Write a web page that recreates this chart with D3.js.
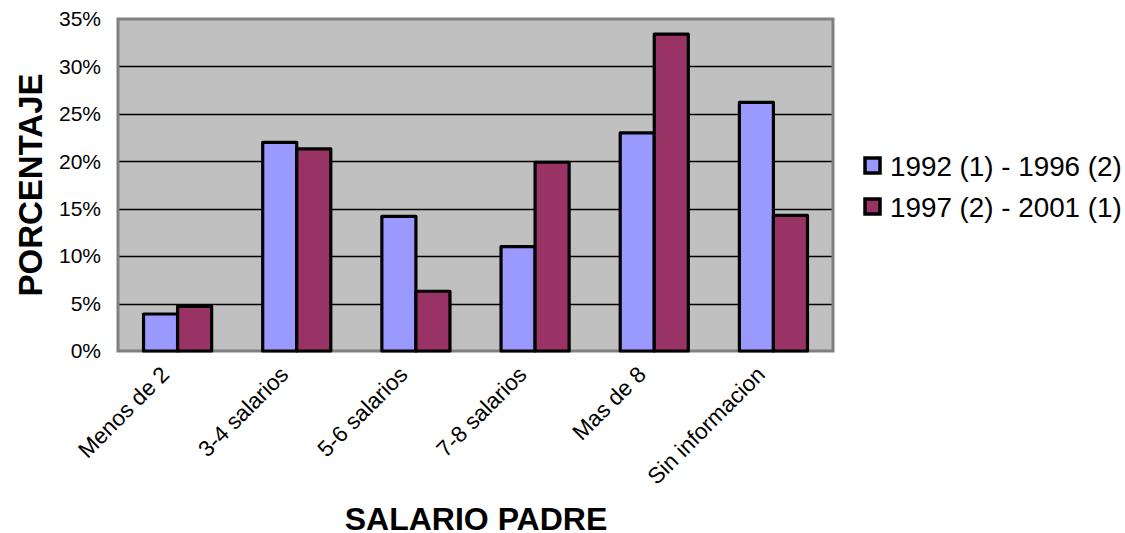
<!DOCTYPE html>
<html><head><meta charset="utf-8">
<script src="https://cdn.jsdelivr.net/npm/d3@7"></script>
<style>body{margin:0;background:#fff}svg{display:block;font-family:"Liberation Sans",Arial,sans-serif}</style>
</head><body><svg id="c" width="1125" height="533"></svg>
<script>
const categories = ["Menos de 2","3-4 salarios","5-6 salarios","7-8 salarios","Mas de 8","Sin informacion"];
const series1 = [3.9, 22.0, 14.2, 11.0, 23.0, 26.2];
const series2 = [4.7, 21.3, 6.3, 19.9, 33.4, 14.3];
const seriesNames = ["1992 (1) - 1996 (2)", "1997 (2) - 2001 (1)"];
const yTicks = [0,5,10,15,20,25,30,35];
const colors = ["#9999FF", "#993366"];

const svg = d3.select("#c");
const L = 118, R = 833, T = 19, B = 351;
const x0 = d3.scaleBand().domain(categories).range([L, R]).paddingInner(0).paddingOuter(0);
const inner = x0.bandwidth() / 3.5;
const y = d3.scaleLinear().domain([0,35]).range([B, T]);

svg.append("rect").attr("x", L).attr("y", T).attr("width", R-L).attr("height", B-T)
  .attr("fill", "#C0C0C0");
svg.append("g").selectAll("line").data(yTicks.filter(d=>d>0 && d<35)).join("line")
  .attr("x1", L).attr("x2", R).attr("y1", d=>Math.round(y(d))+0.5).attr("y2", d=>Math.round(y(d))+0.5)
  .attr("stroke", "#000").attr("stroke-width", 1.3);
svg.append("rect").attr("x", L).attr("y", T).attr("width", R-L).attr("height", B-T)
  .attr("fill", "none").attr("stroke", "#808080").attr("stroke-width", 3);

const data = categories.map((c,i)=>({c, v:[series1[i], series2[i]]}));
const g = svg.append("g");
data.forEach(d => {
  const cx = x0(d.c) + x0.bandwidth()/2;
  d.v.forEach((v,j) => {
    g.append("rect")
      .attr("x", cx - inner + j*inner).attr("y", y(v))
      .attr("width", inner).attr("height", y(0) - y(v))
      .attr("fill", colors[j]).attr("stroke", "#000").attr("stroke-width", 3.2)
      .attr("stroke-linejoin", "round");
  });
});

// y axis labels
const yAxis = d3.axisLeft(y).tickValues(yTicks).tickFormat(d=>d+"%").tickSize(0).tickPadding(17);
const ya = svg.append("g").attr("transform", `translate(${L},0)`).call(yAxis);
ya.select(".domain").remove();
ya.selectAll("text").attr("font-size", 21).attr("fill", "#000")
  .attr("font-family", '"Liberation Sans",Arial,sans-serif');

// x axis labels
const xAxis = d3.axisBottom(x0).tickSize(0).tickPadding(0);
const xa = svg.append("g").attr("transform", `translate(0,${B})`).call(xAxis);
xa.select(".domain").remove();
xa.selectAll("text").attr("font-size", 22.5).attr("fill", "#000")
  .attr("font-family", '"Liberation Sans",Arial,sans-serif')
  .attr("text-anchor", "end").attr("dy", null).attr("y", 0)
  .attr("transform", "translate(-7,25) rotate(-45)");

// titles
svg.append("text").attr("x", 476).attr("y", 530).attr("text-anchor", "middle")
  .attr("font-size", 32).attr("font-weight", "bold").text("SALARIO PADRE");
svg.append("text").attr("transform", "translate(42,185) rotate(-90)").attr("text-anchor", "middle")
  .attr("font-size", 33).attr("font-weight", "bold").text("PORCENTAJE");

// legend
const lg = svg.append("g");
seriesNames.forEach((n,i) => {
  const cy = 166 + i*41;
  lg.append("rect").attr("x", 865).attr("y", cy - 8).attr("width", 15).attr("height", 15)
    .attr("fill", colors[i]).attr("stroke", "#000").attr("stroke-width", 3.5);
  lg.append("text").attr("x", 890).attr("y", cy + 10).attr("font-size", 27.8).text(n);
});
</script></body></html>
